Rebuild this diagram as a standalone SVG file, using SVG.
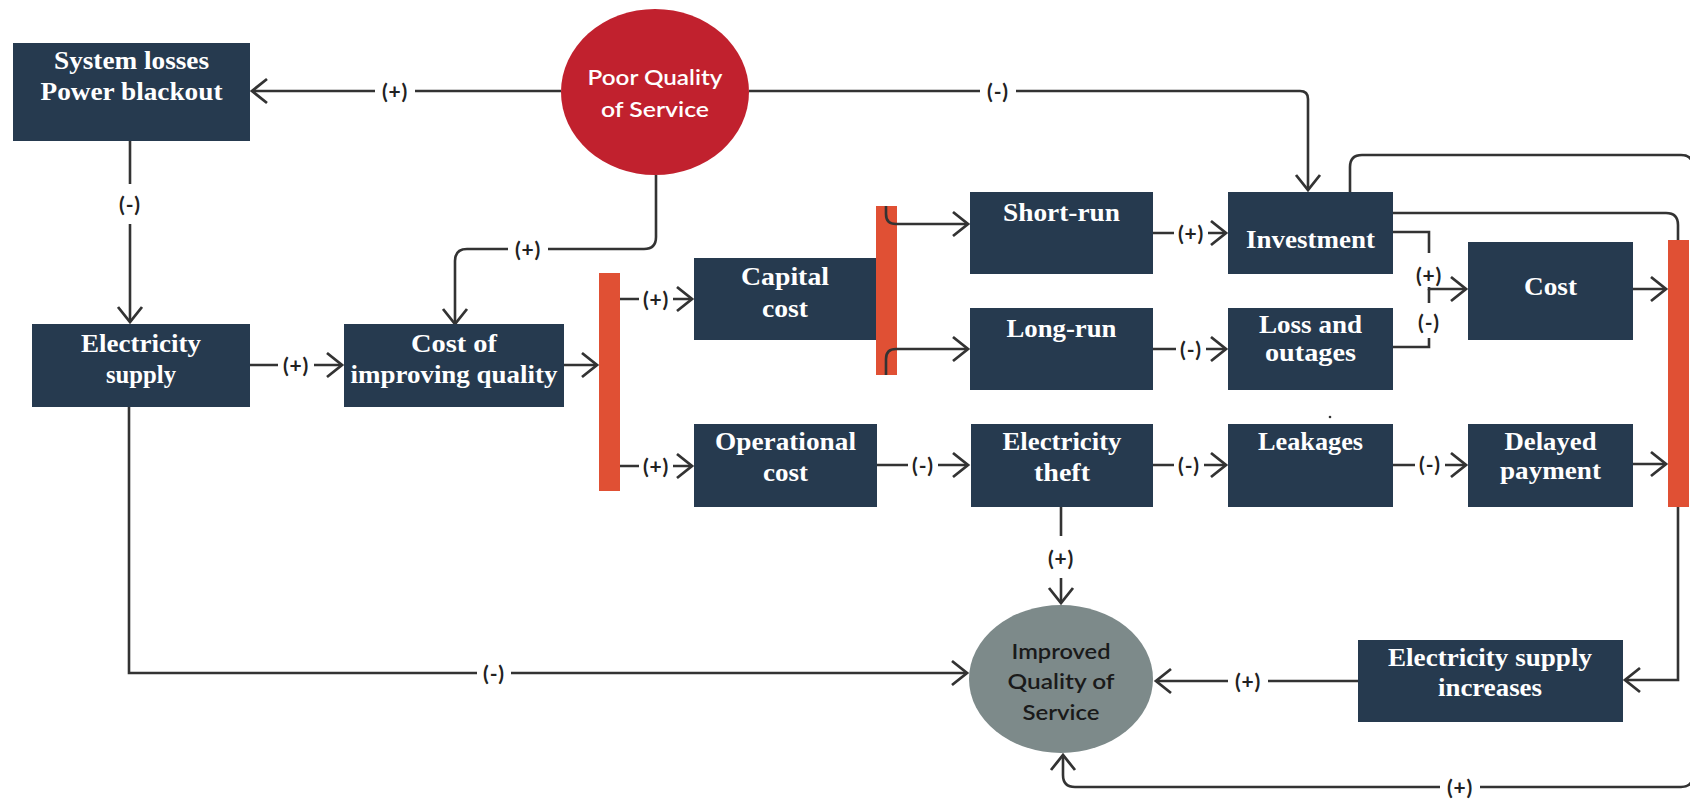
<svg xmlns="http://www.w3.org/2000/svg" width="1690" height="802" viewBox="0 0 1690 802">
<defs>
<marker id="ah" markerUnits="userSpaceOnUse" markerWidth="22" markerHeight="30" viewBox="0 0 22 30" refX="18" refY="15" orient="auto">
<path d="M3,3 L18,15 L3,27" fill="none" stroke="#333" stroke-width="2.8" stroke-linejoin="miter"/>
</marker>
<style>
.box{fill:#263a4f;}
.bar{fill:#e05034;}
.bt{font-family:"Liberation Serif","Times New Roman",serif;font-weight:bold;font-size:25px;fill:#fff;text-anchor:middle;}
.et{font-family:Lato,"Open Sans",sans-serif;font-weight:600;font-size:21px;text-anchor:middle;}
.c{fill:none;stroke:#333;stroke-width:2.6;}
.a{marker-end:url(#ah);}
.lb rect{fill:#fff;}
.lb text{font-family:Lato,"Open Sans",sans-serif;font-weight:bold;font-size:21px;letter-spacing:0.8px;fill:#222;text-anchor:middle;}
</style>
</defs>
<rect width="1690" height="802" fill="#fff"/>

<g id="bar1"><rect class="bar" x="599" y="273" width="21" height="218"/></g>
<g id="bar2"><rect class="bar" x="876" y="206" width="21" height="169"/></g>
<g id="bar3"><rect class="bar" x="1668" y="240" width="21" height="267"/></g>

<g id="connectors">
<path class="c a" d="M561,91 H252"/>
<path class="c a" d="M749,91 H1300 Q1308,91 1308,99 V190"/>
<path class="c a" d="M130,141 V322"/>
<path class="c a" d="M656,175 V237 Q656,249 644,249 H467 Q455,249 455,261 V324"/>
<path class="c a" d="M250,365 H342"/>
<path class="c a" d="M564,365 H597"/>
<path class="c a" d="M620,299 H692"/>
<path class="c a" d="M620,466 H692"/>
<path class="c a" d="M886,206 V214 Q886,224 896,224 H968"/>
<path class="c a" d="M886,375 V359 Q886,349 896,349 H968"/>
<path class="c a" d="M1153,233 H1226"/>
<path class="c a" d="M1153,349 H1226"/>
<path class="c a" d="M1393,232 H1429 V289 H1466"/>
<path class="c" d="M1393,347 H1429 V289"/>
<path class="c a" d="M1633,289 H1666"/>
<path class="c a" d="M1633,464 H1666"/>
<path class="c" d="M1393,213 H1666 Q1678,213 1678,225 V240"/>
<path class="c a" d="M1350,192 V167 Q1350,155 1362,155 H1681 Q1693,155 1693,167 V775 Q1693,787 1681,787 H1075 Q1063,787 1063,775 V755"/>
<path class="c a" d="M1678,507 V680 H1625"/>
<path class="c a" d="M1358,681 H1156"/>
<path class="c a" d="M1061,507 V603"/>
<path class="c a" d="M129,407 V673 H967"/>
<path class="c a" d="M877,465 H968"/>
<path class="c a" d="M1153,465 H1226"/>
<path class="c a" d="M1393,465 H1466"/>

<g class="lb"><rect x="375" y="77" width="40" height="28"/><text x="395" y="99">(+)</text></g>
<g class="lb"><rect x="980" y="77" width="36" height="28"/><text x="998" y="99">(-)</text></g>
<g class="lb"><rect x="115" y="184" width="30" height="40"/><text x="130" y="212">(-)</text></g>
<g class="lb"><rect x="508" y="235" width="40" height="28"/><text x="528" y="257">(+)</text></g>
<g class="lb"><rect x="278" y="351" width="36" height="28"/><text x="296" y="373">(+)</text></g>
<g class="lb"><rect x="639" y="285" width="34" height="28"/><text x="656" y="307">(+)</text></g>
<g class="lb"><rect x="639" y="452" width="34" height="28"/><text x="656" y="474">(+)</text></g>
<g class="lb"><rect x="1174" y="219" width="34" height="28"/><text x="1191" y="241">(+)</text></g>
<g class="lb"><rect x="1176" y="335" width="30" height="28"/><text x="1191" y="357">(-)</text></g>
<g class="lb"><rect x="1413" y="253" width="32" height="34"/><text x="1429" y="283">(+)</text></g>
<g class="lb"><rect x="1415" y="303" width="28" height="35"/><text x="1429" y="330">(-)</text></g>
<g class="lb"><rect x="908" y="451" width="30" height="28"/><text x="923" y="473">(-)</text></g>
<g class="lb"><rect x="1174" y="451" width="30" height="28"/><text x="1189" y="473">(-)</text></g>
<g class="lb"><rect x="1415" y="450" width="30" height="28"/><text x="1430" y="472">(-)</text></g>
<g class="lb"><rect x="1046" y="536" width="30" height="42"/><text x="1061" y="566">(+)</text></g>
<g class="lb"><rect x="477" y="659" width="34" height="28"/><text x="494" y="681">(-)</text></g>
<g class="lb"><rect x="1228" y="667" width="40" height="28"/><text x="1248" y="689">(+)</text></g>
<g class="lb"><rect x="1440" y="773" width="40" height="28"/><text x="1460" y="795">(+)</text></g>
</g>

<g id="poor-quality">
<ellipse cx="655" cy="92" rx="94" ry="83" fill="#c1212e"/>
<text class="et" x="655" y="85" fill="#fff" textLength="135" lengthAdjust="spacingAndGlyphs">Poor Quality</text>
<text class="et" x="655" y="117" fill="#fff" textLength="108" lengthAdjust="spacingAndGlyphs">of Service</text>
</g>

<g id="improved-quality">
<ellipse cx="1061" cy="679" rx="92" ry="74" fill="#7d8a8a"/>
<text class="et" x="1061" y="659" fill="#1a1a1a" textLength="99" lengthAdjust="spacingAndGlyphs">Improved</text>
<text class="et" x="1061" y="689" fill="#1a1a1a" textLength="107" lengthAdjust="spacingAndGlyphs">Quality of</text>
<text class="et" x="1061" y="720" fill="#1a1a1a" textLength="77" lengthAdjust="spacingAndGlyphs">Service</text>
</g>

<g id="system-losses">
<rect class="box" x="13" y="43" width="237" height="98"/>
<text class="bt" x="131.5" y="69" textLength="155" lengthAdjust="spacingAndGlyphs">System losses</text>
<text class="bt" x="131.5" y="100" textLength="182" lengthAdjust="spacingAndGlyphs">Power blackout</text>
</g>

<g id="electricity-supply">
<rect class="box" x="32" y="324" width="218" height="83"/>
<text class="bt" x="141" y="352" textLength="120" lengthAdjust="spacingAndGlyphs">Electricity</text>
<text class="bt" x="141" y="383" textLength="70" lengthAdjust="spacingAndGlyphs">supply</text>
</g>

<g id="cost-improving">
<rect class="box" x="344" y="324" width="220" height="83"/>
<text class="bt" x="454" y="352" textLength="86" lengthAdjust="spacingAndGlyphs">Cost of</text>
<text class="bt" x="454" y="383" textLength="207" lengthAdjust="spacingAndGlyphs">improving quality</text>
</g>

<g id="capital-cost">
<rect class="box" x="694" y="258" width="182" height="82"/>
<text class="bt" x="785" y="285" textLength="88" lengthAdjust="spacingAndGlyphs">Capital</text>
<text class="bt" x="785" y="317" textLength="46" lengthAdjust="spacingAndGlyphs">cost</text>
</g>

<g id="operational-cost">
<rect class="box" x="694" y="424" width="183" height="83"/>
<text class="bt" x="785.5" y="450" textLength="141" lengthAdjust="spacingAndGlyphs">Operational</text>
<text class="bt" x="785.5" y="481" textLength="45" lengthAdjust="spacingAndGlyphs">cost</text>
</g>

<g id="short-run">
<rect class="box" x="970" y="192" width="183" height="82"/>
<text class="bt" x="1061.5" y="221" textLength="117" lengthAdjust="spacingAndGlyphs">Short-run</text>
</g>

<g id="long-run">
<rect class="box" x="970" y="308" width="183" height="82"/>
<text class="bt" x="1061.5" y="337" textLength="110" lengthAdjust="spacingAndGlyphs">Long-run</text>
</g>

<g id="investment">
<rect class="box" x="1228" y="192" width="165" height="82"/>
<text class="bt" x="1310.5" y="248" textLength="129" lengthAdjust="spacingAndGlyphs">Investment</text>
</g>

<g id="loss-outages">
<rect class="box" x="1228" y="308" width="165" height="82"/>
<text class="bt" x="1310.5" y="333" textLength="103" lengthAdjust="spacingAndGlyphs">Loss and</text>
<text class="bt" x="1310.5" y="361" textLength="91" lengthAdjust="spacingAndGlyphs">outages</text>
</g>

<g id="cost">
<rect class="box" x="1468" y="242" width="165" height="98"/>
<text class="bt" x="1550.5" y="295" textLength="53" lengthAdjust="spacingAndGlyphs">Cost</text>
</g>

<g id="electricity-theft">
<rect class="box" x="971" y="424" width="182" height="83"/>
<text class="bt" x="1062" y="450" textLength="119" lengthAdjust="spacingAndGlyphs">Electricity</text>
<text class="bt" x="1062" y="481" textLength="56" lengthAdjust="spacingAndGlyphs">theft</text>
</g>

<g id="leakages">
<rect class="box" x="1228" y="424" width="165" height="83"/>
<text class="bt" x="1310.5" y="450" textLength="105" lengthAdjust="spacingAndGlyphs">Leakages</text>
</g>
<circle cx="1330" cy="417" r="1.3" fill="#333"/>

<g id="delayed-payment">
<rect class="box" x="1468" y="424" width="165" height="83"/>
<text class="bt" x="1550.5" y="450" textLength="92" lengthAdjust="spacingAndGlyphs">Delayed</text>
<text class="bt" x="1550.5" y="479" textLength="101" lengthAdjust="spacingAndGlyphs">payment</text>
</g>

<g id="supply-increases">
<rect class="box" x="1358" y="640" width="265" height="82"/>
<text class="bt" x="1490" y="666" textLength="204" lengthAdjust="spacingAndGlyphs">Electricity supply</text>
<text class="bt" x="1490" y="696" textLength="104" lengthAdjust="spacingAndGlyphs">increases</text>
</g>
</svg>
